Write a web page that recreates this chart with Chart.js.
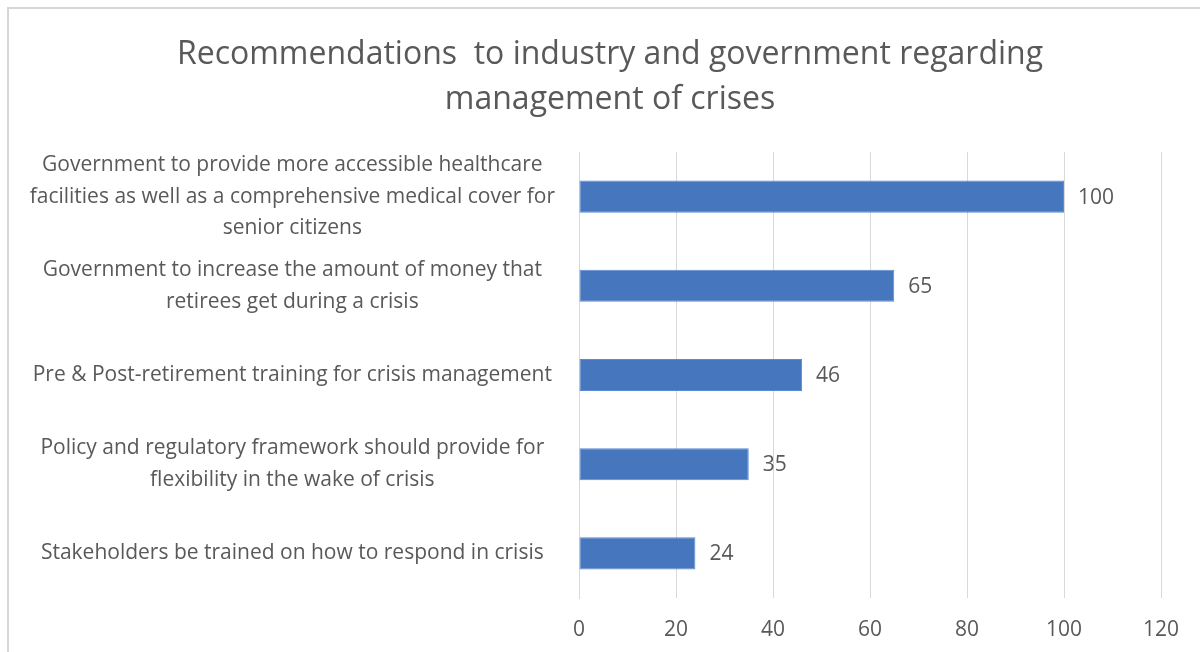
<!DOCTYPE html>
<html>
<head>
<meta charset="utf-8">
<script src="https://cdn.jsdelivr.net/npm/chart.js@4.4.1/dist/chart.umd.min.js"></script>
<style>
  html, body { margin: 0; padding: 0; background: #fff; }
  #wrap { position: relative; width: 1200px; height: 652px; overflow: hidden; }
  #frame { position: absolute; left: 7px; top: 7px; width: 1300px; height: 800px;
           border-top: 2px solid #d6d6d6; border-left: 2px solid #d6d6d6; }
  canvas { position: absolute; left: 0; top: 0; }
</style>
</head>
<body>
<div id="wrap">
  <div id="frame"></div>
  <canvas id="chart" width="1200" height="652"></canvas>
</div>
<script>
const TITLE_LINES = ['Recommendations  to industry and government regarding', 'management of crises'];

const categories = [
  ['Government to provide more accessible healthcare', 'facilities as well as a comprehensive medical cover for', 'senior citizens'],
  ['Government to increase the amount of money that', 'retirees get during a crisis'],
  ['Pre & Post-retirement training for crisis management'],
  ['Policy and regulatory framework should provide for', 'flexibility in the wake of crisis'],
  ['Stakeholders be trained on how to respond in crisis'],
];
const values = [100, 65, 46, 35, 24];
const xTicks = [0, 20, 40, 60, 80, 100, 120];

const GREY = '#595959';
const FONT = '"Open Sans", Lato, sans-serif';

// title drawn above the plot, centred a bit right of the canvas middle
const titlePlugin = {
  id: 'twoLineTitle',
  afterDraw(chart) {
    const ctx = chart.ctx;
    ctx.save();
    ctx.fillStyle = GREY;
    ctx.font = '32px ' + FONT;
    ctx.textAlign = 'center';
    ctx.textBaseline = 'middle';
    TITLE_LINES.forEach((line, i) => ctx.fillText(line, 610, 55 + i * 45));
    ctx.restore();
  }
};

// value printed just past the end of each bar
const valueLabels = {
  id: 'valueLabels',
  afterDatasetsDraw(chart) {
    const ctx = chart.ctx;
    const meta = chart.getDatasetMeta(0);
    ctx.save();
    ctx.fillStyle = GREY;
    ctx.font = '21px ' + FONT;
    ctx.textAlign = 'left';
    ctx.textBaseline = 'middle';
    meta.data.forEach((bar, i) => ctx.fillText(String(values[i]), bar.x + 14, bar.y + 1));
    ctx.restore();
  }
};

new Chart(document.getElementById('chart'), {
  type: 'bar',
  data: {
    labels: categories,
    datasets: [{
      data: values,
      backgroundColor: '#4676bd',
      borderColor: '#5a8ad0',
      borderWidth: 1,
      borderSkipped: false,
      barPercentage: 0.36,
      categoryPercentage: 1,
    }]
  },
  options: {
    indexAxis: 'y',
    responsive: false,
    animation: false,
    layout: { padding: { left: 18, right: 39, top: 152, bottom: 0 } },
    plugins: {
      legend: { display: false },
      tooltip: { enabled: false },
      title: { display: false },
    },
    scales: {
      x: {
        min: 0,
        max: 120,
        afterBuildTicks: s => { s.ticks = xTicks.map(v => ({ value: v })); },
        afterFit: s => { s.height = 54; },
        grid: { color: '#d9d9d9', lineWidth: 1, drawTicks: false },
        border: { display: false },
        ticks: { color: GREY, font: { family: FONT, size: 21 }, padding: 19 },
      },
      y: {
        // keep the multi-line labels from pushing the plot edges inward
        afterFit: s => { s.width = 561; s.paddingTop = 0; s.paddingBottom = 0; },
        grid: { display: false, drawTicks: false },
        border: { color: '#d9d9d9' },
        ticks: {
          color: GREY,
          font: { family: FONT, size: 21, lineHeight: 1.5 },
          crossAlign: 'center',
          autoSkip: false,
          padding: 24,
        },
      }
    }
  },
  plugins: [titlePlugin, valueLabels]
});
</script>
</body>
</html>
